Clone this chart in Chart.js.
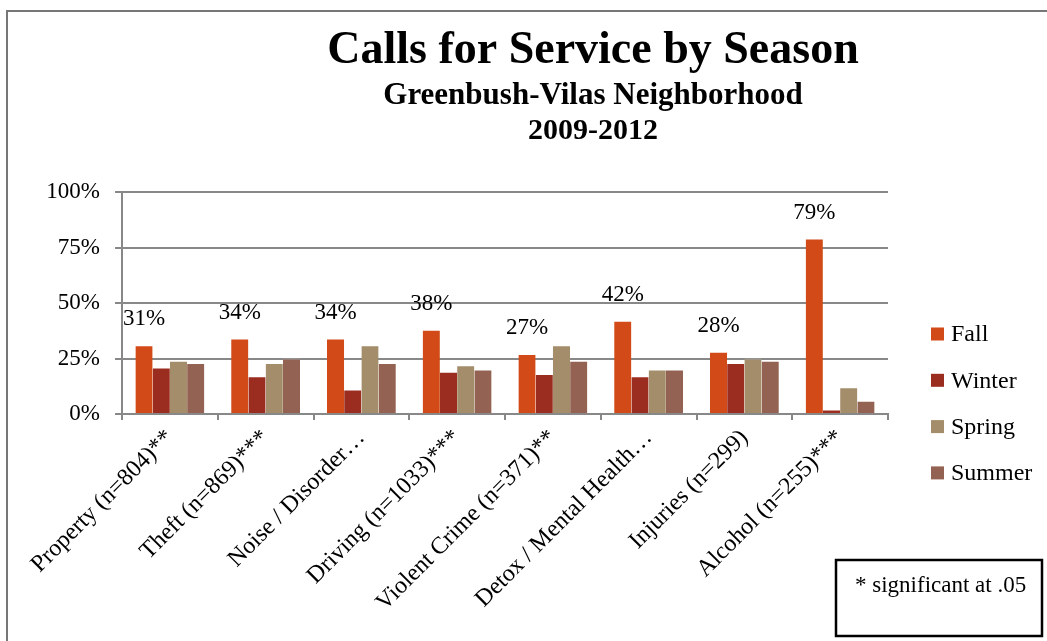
<!DOCTYPE html>
<html>
<head>
<meta charset="utf-8">
<title>Calls for Service by Season</title>
<script src="https://cdn.jsdelivr.net/npm/chart.js@4/dist/chart.umd.min.js"></script>
<style>
  html, body { margin: 0; padding: 0; background: #fff; }
  canvas { display: block; }
</style>
</head>
<body>
<canvas id="season-chart" width="1047" height="641"></canvas>
<script>
var categories = ["Property (n=804)**", "Theft (n=869)***", "Noise / Disorder\u2026", "Driving (n=1033)***",
  "Violent Crime (n=371)**", "Detox / Mental Health\u2026", "Injuries (n=299)", "Alcohol (n=255)***"];
var fall   = [31, 34, 34, 38, 27, 42, 28, 79];
var winter = [21, 17, 11, 19, 18, 17, 23, 2];
var spring = [24, 23, 31, 22, 31, 20, 25, 12];
var summer = [23, 25, 23, 20, 24, 20, 24, 6];
var yTicks = [0, 25, 50, 75, 100];

var serif = "'Liberation Serif', 'DejaVu Serif', serif";
var gridGray = "#888888";

// page frame, titles, legend and footnote box
var decorations = {
  id: "decorations",
  beforeDraw: function(chart) {
    var c = chart.ctx;
    c.save();
    c.fillStyle = "#fff";
    c.fillRect(0, 0, chart.width, chart.height);
    c.strokeStyle = "#777";
    c.lineWidth = 2;
    c.beginPath();
    c.moveTo(7, chart.height);
    c.lineTo(7, 11);
    c.lineTo(chart.width, 11);
    c.stroke();
    c.restore();
  },
  afterDraw: function(chart) {
    var c = chart.ctx;
    c.save();
    c.fillStyle = "#000";
    c.textAlign = "center";
    c.textBaseline = "alphabetic";
    c.font = "bold 46px " + serif;
    c.fillText("Calls for Service by Season", 593, 63);
    c.font = "bold 31px " + serif;
    c.fillText("Greenbush-Vilas Neighborhood", 593, 104);
    c.font = "bold 30px " + serif;
    c.fillText("2009-2012", 593, 139);

    // legend
    c.textAlign = "left";
    c.textBaseline = "middle";
    c.font = "24px " + serif;
    chart.data.datasets.forEach(function(ds, i) {
      var y = 334 + i * 46.3;
      c.fillStyle = ds.backgroundColor;
      c.fillRect(931, y - 6.5, 13, 13);
      c.fillStyle = "#000";
      c.fillText(ds.label, 951, y + 1);
    });

    // significance note
    c.strokeStyle = "#000";
    c.lineWidth = 2.5;
    c.strokeRect(836, 560, 206, 76);
    c.textBaseline = "alphabetic";
    c.font = "23px " + serif;
    c.fillText("* significant at .05", 855, 592);
    c.restore();
  }
};

// percentage labels over the Fall bars
var fallLabels = {
  id: "fallLabels",
  afterDatasetsDraw: function(chart) {
    var c = chart.ctx;
    var meta = chart.getDatasetMeta(0);
    c.save();
    c.fillStyle = "#000";
    c.font = "23px " + serif;
    c.textAlign = "center";
    c.textBaseline = "alphabetic";
    meta.data.forEach(function(bar, i) {
      c.fillText(fall[i] + "%", bar.x, bar.y - 20);
    });
    c.restore();
  }
};

var chart = new Chart(document.getElementById("season-chart"), {
  type: "bar",
  data: {
    labels: categories,
    datasets: [
      { label: "Fall",   data: fall,   backgroundColor: "#d24a18" },
      { label: "Winter", data: winter, backgroundColor: "#9b2c20" },
      { label: "Spring", data: spring, backgroundColor: "#a48d6a" },
      { label: "Summer", data: summer, backgroundColor: "#946252" }
    ]
  },
  options: {
    responsive: false,
    animation: false,
    layout: { padding: { left: 0, top: 192, right: 159, bottom: 0 } },
    datasets: {
      bar: {
        barPercentage: 1,
        categoryPercentage: 0.72,
        borderWidth: { top: 1, left: 0, right: 0, bottom: 0 },
        borderColor: "rgba(255,255,255,0.35)"
      }
    },
    plugins: {
      legend: { display: false },
      title: { display: false },
      tooltip: { enabled: false }
    },
    scales: {
      x: {
        afterFit: function(scale) { scale.height = 227; },
        grid: {
          offset: true,
          drawOnChartArea: false,
          drawTicks: true,
          tickLength: 6,
          color: gridGray,
          lineWidth: 2
        },
        border: { display: true, color: gridGray, width: 2 },
        ticks: {
          autoSkip: false,
          minRotation: 45,
          maxRotation: 45,
          padding: 4,
          color: "#000",
          font: { family: serif, size: 24 }
        }
      },
      y: {
        min: 0,
        max: 100,
        afterFit: function(scale) { scale.width = 122; },
        afterBuildTicks: function(scale) {
          scale.ticks = yTicks.map(function(v) { return { value: v }; });
        },
        grid: {
          color: gridGray,
          lineWidth: 2,
          tickLength: 7
        },
        border: { display: true, color: gridGray, width: 2 },
        ticks: {
          padding: 15,
          color: "#000",
          font: { family: serif, size: 23 },
          callback: function(v) { return v + "%"; }
        }
      }
    }
  },
  plugins: [decorations, fallLabels]
});
</script>
</body>
</html>
